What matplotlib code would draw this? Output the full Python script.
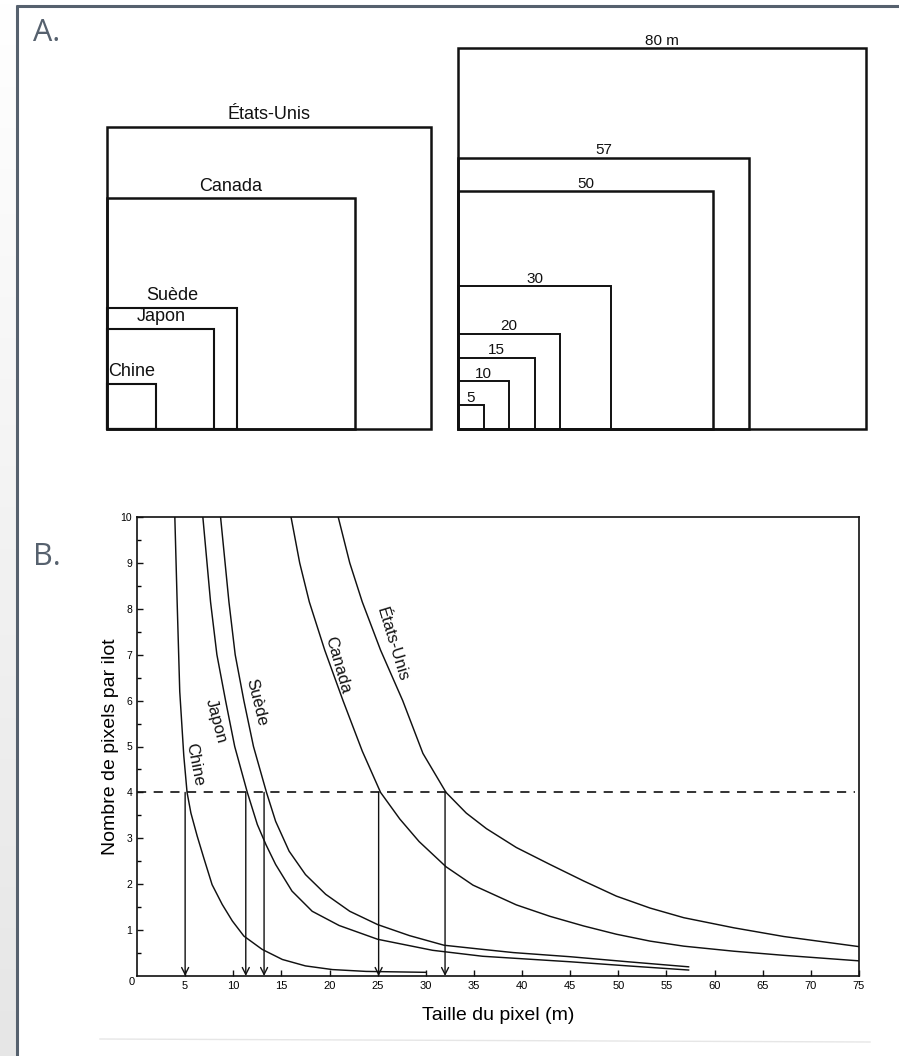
import numpy as np
import matplotlib
matplotlib.use("Agg")
import matplotlib.pyplot as plt
from matplotlib.patches import Rectangle
from matplotlib.colors import LinearSegmentedColormap

plt.rcParams['font.family'] = ['Liberation Sans', 'DejaVu Sans']

# ---- A : carres (cote en m) ----
pays = ["Chine", "Japon", "Suède", "Canada", "États-Unis"]
cote_pays = [9.5, 21, 25.5, 48.5, 63.5]
cote_pixel = [5, 10, 15, 20, 30, 50, 57, 80]
label_pixel = ["5", "10", "15", "20", "30", "50", "57", "80 m"]

# ---- B : nombre de pixels par ilot vs taille du pixel ----
chine_x = [3.93, 4.17, 4.44, 4.86, 5.2, 5.6, 6.25, 6.94, 7.8, 8.85, 9.9, 11.1, 13.0, 15.1, 17.5, 20.3, 23.8, 30.0]
chine_y = [10, 8.15, 6.2, 4.8, 4.0, 3.55, 3.05, 2.57, 1.99, 1.56, 1.2, 0.87, 0.58, 0.36, 0.22, 0.14, 0.10, 0.08]
japon_x = [6.84, 7.64, 8.3, 9.2, 10.15, 11.46, 12.5, 13.4, 14.4, 16.1, 18.2, 21.0, 25.0, 30.7, 35.9, 45.0, 51.0, 57.3]
japon_y = [10, 8.15, 7.0, 6.0, 5.0, 4.0, 3.3, 2.86, 2.43, 1.85, 1.41, 1.1, 0.80, 0.56, 0.43, 0.31, 0.22, 0.13]
suede_x = [8.68, 9.55, 10.2, 11.1, 12.1, 13.45, 14.4, 15.8, 17.5, 19.6, 22.1, 25.0, 28.3, 31.9, 35.9, 39.1, 45.0, 51.0, 57.3]
suede_y = [10, 8.15, 7.0, 6.0, 5.0, 4.0, 3.37, 2.72, 2.21, 1.78, 1.41, 1.12, 0.88, 0.67, 0.58, 0.51, 0.42, 0.31, 0.2]
canada_x = [16.0, 16.9, 17.9, 19.5, 21.4, 23.4, 25.3, 27.3, 29.3, 32.1, 34.9, 39.4, 42.9, 46.4, 49.8, 53.3, 56.8, 62.0, 67.2, 75.0]
canada_y = [10, 9.0, 8.15, 7.1, 6.0, 4.9, 4.0, 3.42, 2.93, 2.38, 1.98, 1.55, 1.30, 1.09, 0.91, 0.76, 0.65, 0.54, 0.45, 0.33]
usa_x = [20.9, 22.1, 23.4, 25.3, 27.6, 29.7, 32.1, 34.2, 36.3, 39.4, 42.9, 46.4, 49.8, 53.3, 56.8, 62.0, 67.2, 75.0]
usa_y = [10, 9.0, 8.15, 7.1, 6.0, 4.85, 4.0, 3.55, 3.21, 2.8, 2.43, 2.07, 1.74, 1.48, 1.27, 1.05, 0.86, 0.64]
seuil = 4
fleches_x = [5.0, 11.3, 13.2, 25.1, 32.0]

W, H = 899, 1056
fig = plt.figure(figsize=(W / 100, H / 100), dpi=100)

# cadre
bg = fig.add_axes([0, 0, 1, 1], zorder=-1)
cmap = LinearSegmentedColormap.from_list("g", ["#ffffff", "#e6e6e6"])
bg.imshow(np.linspace(0, 1, 256).reshape(-1, 1), cmap=cmap, extent=(0, 16, H, 0), aspect='auto')
bg.plot([17.3, 17.3], [5, H], color='#56616e', lw=2.2, solid_capstyle='butt')
bg.plot([16, W], [6.2, 6.2], color='#56616e', lw=2.2, solid_capstyle='butt')
bg.plot([100, 870], [1039, 1042], color='#e6e6e6', lw=1)
bg.set_xlim(0, W)
bg.set_ylim(H, 0)
bg.axis('off')
bg.text(33, 40.7, "A.", fontsize=22, family=['Open Sans', 'DejaVu Sans'], color='#56616e', va='baseline')
bg.text(33, 565, "B.", fontsize=22, family=['Open Sans', 'DejaVu Sans'], color='#56616e', va='baseline')

# ---- A ----
axA = fig.add_axes([107.3 / W, 1 - 429 / H, 758.9 / W, 380.8 / H])
axA.set_xlim(0, 148.8)
axA.set_ylim(0, 80)
axA.axis('off')
for nom, c in zip(pays, cote_pays):
    lw = 1.8 if c >= 45 else 1.5
    axA.add_patch(Rectangle((0, 0), c, c, fill=False, lw=lw, ec='#111111', clip_on=False))
    axA.annotate(nom, (c / 2, c), xytext=(0, 5.5), textcoords='offset points',
                 ha='center', va='baseline', fontsize=13, color='#111111')
x0 = 68.8
for lab, c in zip(label_pixel, cote_pixel):
    lw = 1.8 if c >= 50 else 1.4
    axA.add_patch(Rectangle((x0, 0), c, c, fill=False, lw=lw, ec='#111111', clip_on=False))
    axA.annotate(lab, (x0 + c / 2, c), xytext=(0, 2.5), textcoords='offset points',
                 ha='center', va='baseline', fontsize=11, color='#111111')

# ---- B ----
axB = fig.add_axes([137 / W, 1 - 976 / H, 722 / W, 459 / H])
axB.set_xlim(0, 75)
axB.set_ylim(0, 10)
for xs, ys in [(chine_x, chine_y), (japon_x, japon_y), (suede_x, suede_y),
               (canada_x, canada_y), (usa_x, usa_y)]:
    axB.plot(xs, ys, color='#111111', lw=1.05, solid_joinstyle='round')
axB.plot([0, 74.6], [seuil, seuil], color='#111111', lw=1.2, ls=(0, (5.5, 4.5)))
for xa in fleches_x:
    axB.annotate('', xy=(xa, 0.0), xytext=(xa, seuil),
                 arrowprops=dict(arrowstyle='->,head_length=0.5,head_width=0.25',
                                 lw=1.0, color='#111111', shrinkA=0, shrinkB=0))

noms_b = ["États-Unis", "Canada", "Suède", "Japon", "Chine"]
pos_b = [(26.5, 7.23, -73), (20.8, 6.78, -74), (12.4, 5.96, -76), (8.2, 5.55, -75), (5.95, 4.6, -79)]
for nom, (tx, ty, rot) in zip(noms_b, pos_b):
    axB.text(tx, ty, nom, rotation=rot, rotation_mode='anchor', ha='center', va='center',
             fontsize=12, color='#111111')

axB.set_xticks(range(5, 80, 5))
axB.set_yticks(range(1, 11))
axB.set_yticks(np.arange(0.5, 10, 1.0), minor=True)
axB.tick_params(axis='both', which='major', direction='in', length=4.5, width=1.0, pad=3.5, color='#111111')
axB.tick_params(axis='y', which='minor', direction='in', length=3, width=1.0)
axB.tick_params(axis='x', labelsize=8)
axB.tick_params(axis='y', labelsize=7.5)
for sp in axB.spines.values():
    sp.set_linewidth(1.2)
    sp.set_color('#111111')
axB.annotate('0', (0, 0), xytext=(-3.8, -4.1), textcoords='offset points',
             ha='center', va='center', fontsize=8)

axB.set_xlabel("Taille du pixel (m)", fontsize=14, va='center')
axB.xaxis.set_label_coords((498 - 137) / 722, (976 - 1016) / 459)
axB.set_ylabel("Nombre de pixels par ilot", fontsize=14, va='center', ha='center')
axB.yaxis.set_label_coords((110.7 - 137) / 722, 0.5)

fig.savefig("out.png", dpi=100)
